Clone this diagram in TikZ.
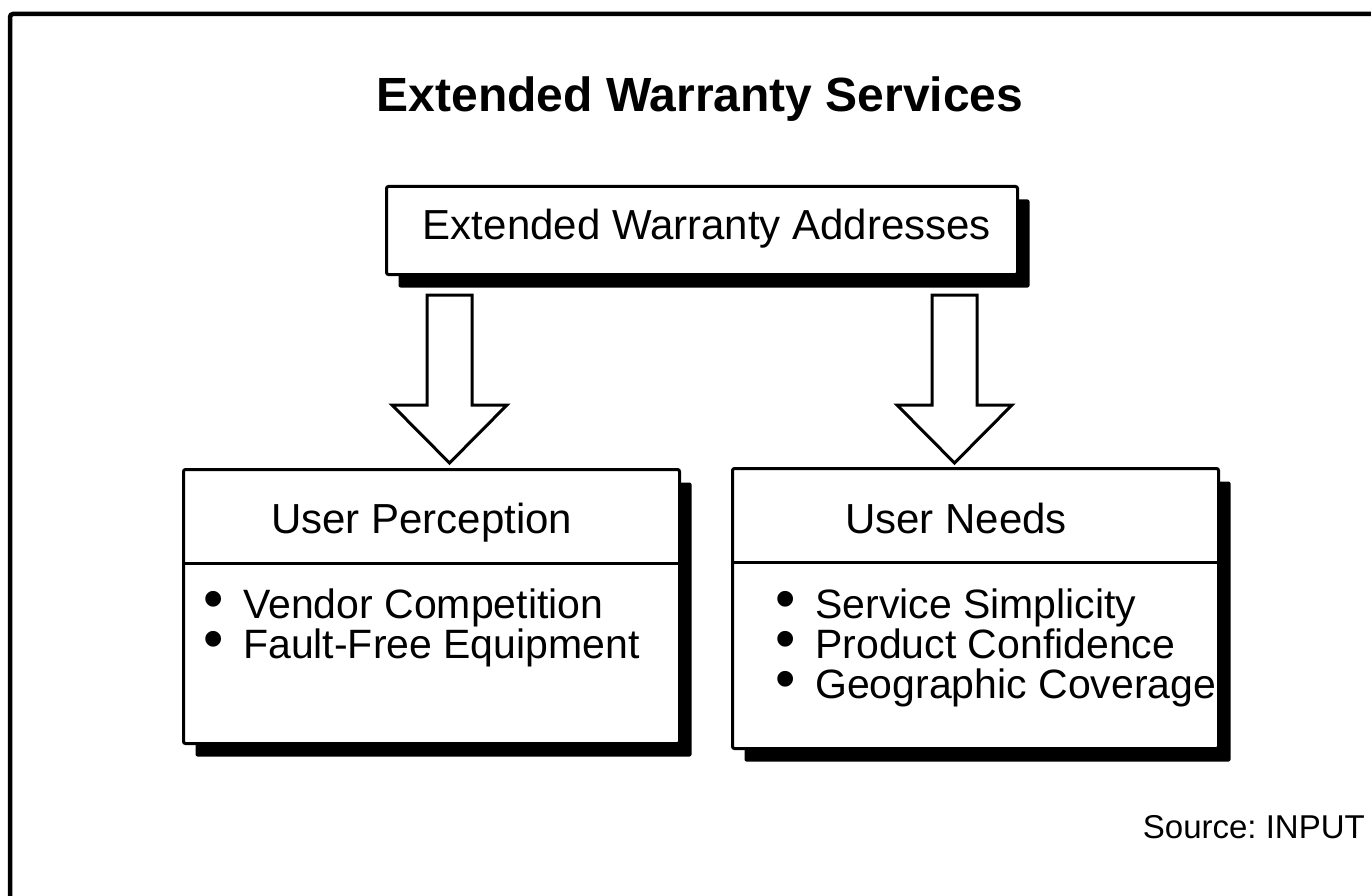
\documentclass[tikz,border=0pt]{standalone}
\usepackage{fontspec}
\setmainfont{Liberation Sans}
\usetikzlibrary{shadows}
\frenchspacing
\newcommand\itemdot{\makebox[20pt]{\smash{\fontsize{58}{58}\selectfont •}}\hspace{20pt}}
\begin{document}
\begin{tikzpicture}[x=1pt,y=-1pt]
\tikzset{
  panel/.style={draw, line width=3pt, fill=white, rectangle, rounded corners=2pt,
    inner sep=0pt, anchor=north west,
    drop shadow={fill=black, opacity=1, shadow xshift=12pt, shadow yshift=-13pt}},
  boxtext/.style={font=\fontsize{42}{40}\selectfont, inner sep=0pt, anchor=base west},
  itemlist/.style={font=\fontsize{41}{40}\selectfont, inner sep=0pt, align=left,
    anchor=base west},
  arrowline/.style={draw, line width=3pt, fill=white, line join=miter},
  frameline/.style={line width=4.5pt, rounded corners=3pt},
}
\useasboundingbox (0,0) rectangle (1371,896);

% outer frame (open to the right and bottom)
\draw[frameline] (10,905) -- (10,14) -- (1380,14);

% title
\node[inner sep=0pt, anchor=base, font=\fontsize{48}{48}\selectfont\bfseries]
  (title) at (700,112) {Extended Warranty Services};

% top box
\node[panel, minimum width=631pt, minimum height=88pt] (addr) at (385,185) {};
\node[boxtext, anchor=base] (addrtxt) at (707,240) {Extended Warranty Addresses};

% block arrows
\newcommand\blockdown[1]{%
  \draw[arrowline] (#1) ++(-22.5,0) -- ++(45,0) -- ++(0,110) -- ++(35,0)
    -- ++(-57.5,58) -- ++(-57.5,-58) -- ++(35,0) -- cycle;}
\coordinate (la) at (449.5,295);
\coordinate (ra) at (954.5,295);
\blockdown{la}
\blockdown{ra}

% left panel
\node[panel, minimum width=496pt, minimum height=274pt] (perc) at (182,468) {};
\draw[line width=3pt] (perc.west |- 0,563) -- (perc.east |- 0,563);
\node[boxtext] (perch) at (271,533) {User Perception};
\node[itemlist] (plist) at (203,658)
  {\itemdot Vendor Competition\\ \itemdot Fault-Free Equipment};

% right panel
\node[panel, minimum width=486pt, minimum height=280pt] (need) at (731,467) {};
\draw[line width=3pt] (need.west |- 0,562) -- (need.east |- 0,562);
\node[boxtext] (needh) at (845,533) {User Needs};
\node[itemlist] (nlist) at (775,698)
  {\itemdot Service Simplicity\\ \itemdot Product Confidence\\ \itemdot Geographic Coverage};

% source line
\node[inner sep=0pt, anchor=base east, font=\fontsize{33}{33}\selectfont]
  (src) at (1365,838) {Source: INPUT};
\end{tikzpicture}
\end{document}
